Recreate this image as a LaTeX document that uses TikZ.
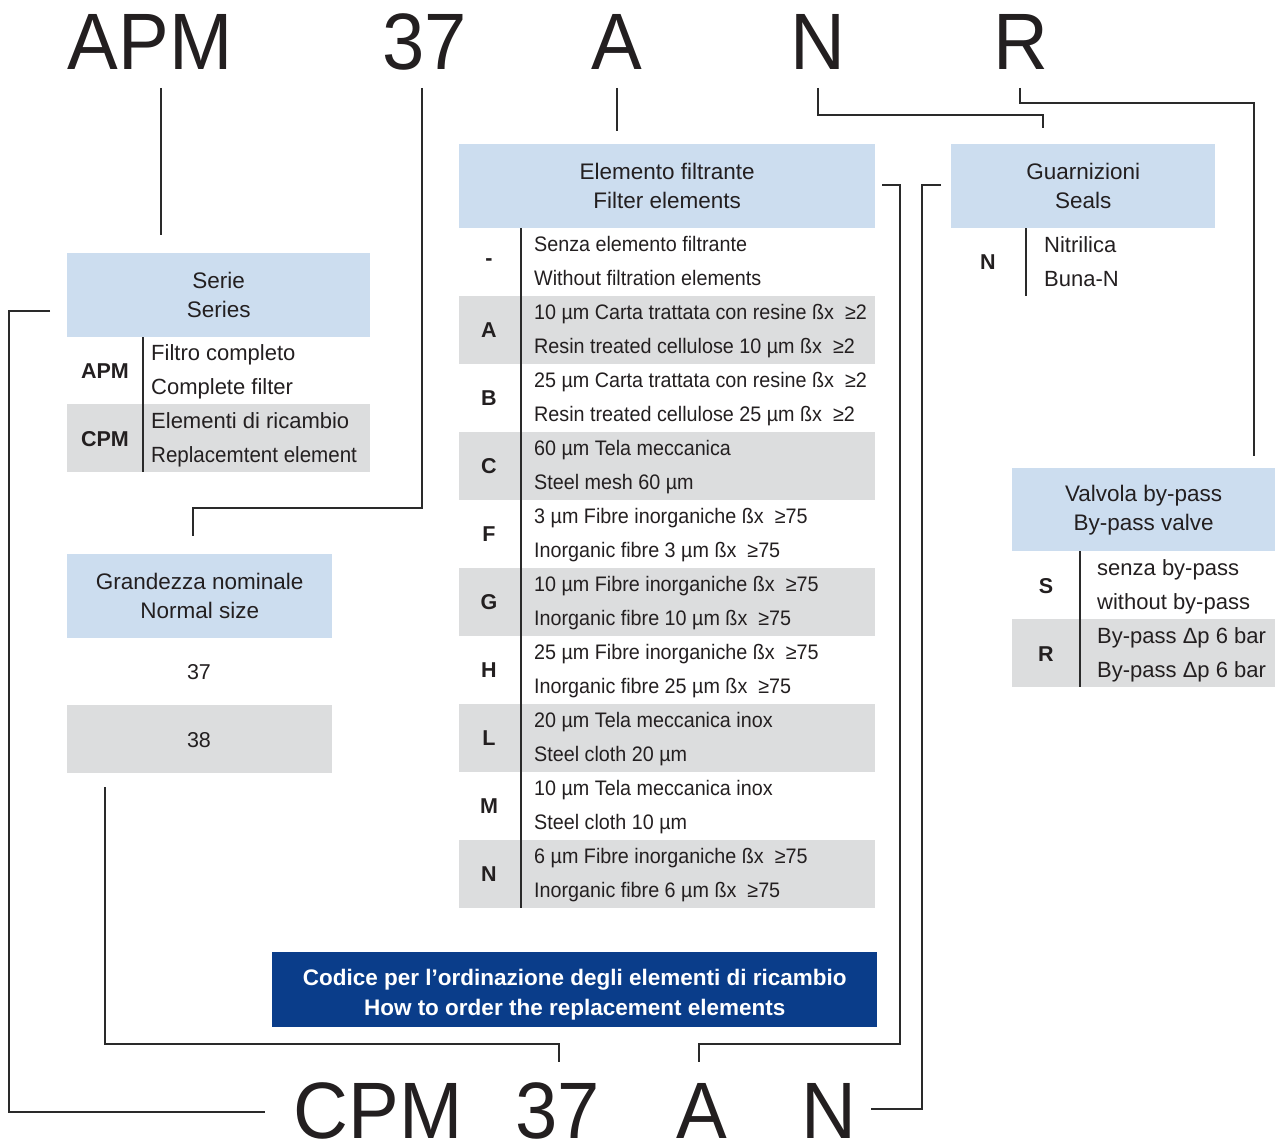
\documentclass[tikz,border=0pt]{standalone}
\usepackage{fontspec}
\setmainfont{Liberation Sans}
\newfontfamily\bigfont[FakeStretch=0.95]{Liberation Sans}
\newfontfamily\rowfont[FakeStretch=0.94]{Liberation Sans}
\newfontfamily\tightfont[FakeStretch=0.935]{Liberation Sans}
\definecolor{hdrblue}{HTML}{CCDDEF}
\definecolor{rowgray}{HTML}{DCDDDE}
\definecolor{darkblue}{HTML}{0A3D8A}
\definecolor{txt}{HTML}{231F20}
\definecolor{linec}{HTML}{2A2A2A}
\tikzset{
  hdr/.style={fill=hdrblue, inner sep=0pt, align=center, anchor=north west,
    font=\fontsize{22.5}{29}\selectfont, text=txt},
  rowbg/.style={fill=rowgray, inner sep=0pt, anchor=north west},
  codetxt/.style={font=\bfseries\fontsize{21.5}{21.5}\selectfont, text=txt, inner sep=0pt},
  rtxt/.style={anchor=base west, font=\fontsize{22}{22}\selectfont, text=txt, inner sep=0pt},
  etxt/.style={anchor=base west, font=\rowfont\fontsize{21}{21}\selectfont, text=txt, inner sep=0pt},
  bigtxt/.style={anchor=base, font=\bigfont\fontsize{80}{80}\selectfont, text=txt, inner sep=0pt},
  conn/.style={draw=linec, line width=1.2pt},
  divider/.style={draw=linec, line width=1.2pt}
}
\newcommand{\ERow}[5]{%
  \node[codetxt] (#1c) at (489,#2+34) {#3};
  \node[etxt] (#1a) at (534,#2+23.7) {#4};
  \node[etxt] (#1b) at (534,#2+57.7) {#5};
}
\newcommand{\gap}{\hspace{11pt}}
\begin{document}
\begin{tikzpicture}[x=1pt,y=-1pt]
\useasboundingbox (0,0) rectangle (1275,1145);

% ---- top code ----
\node[bigtxt] (tAPM) at (150,70) {APM};
\node[bigtxt] (t37) at (425,70) {37};
\node[bigtxt] (tA) at (617,70) {A};
\node[bigtxt] (tN) at (818,70) {N};
\node[bigtxt] (tR) at (1021,70) {R};

% ---- bottom code ----
\node[bigtxt] (bCPM) at (378,1138) {CPM};
\node[bigtxt] (b37) at (558,1138) {37};
\node[bigtxt] (bA) at (702,1138) {A};
\node[bigtxt] (bN) at (829,1138) {N};

% ---- Serie ----
\node[hdr, minimum width=303pt, minimum height=84pt] (hSerie) at (67,253) {Serie\\Series};
\node[rowbg, minimum width=303pt, minimum height=68pt] (sCPMbg) at (67,404) {};
\draw[divider] (143,337) -- (143,472);
\node[codetxt] (sAPM) at (105,371) {APM};
\node[rtxt] (sAPMa) at (151,360.3) {Filtro completo};
\node[rtxt] (sAPMb) at (151,394.3) {Complete filter};
\node[codetxt] (sCPM) at (105,439) {CPM};
\node[rtxt] (sCPMa) at (151,428) {Elementi di ricambio};
\node[rtxt, font=\tightfont\fontsize{22}{22}\selectfont] (sCPMb) at (151,462) {Replacemtent element};

% ---- Grandezza ----
\node[hdr, minimum width=265pt, minimum height=84pt] (hGrand) at (67,554) {Grandezza nominale\\Normal size};
\node[rowbg, minimum width=265pt, minimum height=68pt] (g38bg) at (67,705) {};
\node[text=txt, font=\fontsize{21.5}{21.5}\selectfont, inner sep=0pt] (g37) at (199,672) {37};
\node[text=txt, font=\fontsize{21.5}{21.5}\selectfont, inner sep=0pt] (g38) at (199,740) {38};

% ---- Elemento filtrante ----
\node[hdr, minimum width=416pt, minimum height=84pt] (hElem) at (459,144) {Elemento filtrante\\Filter elements};
\foreach \yy in {296,432,568,704,840}
  \node[rowbg, minimum width=416pt, minimum height=68pt] at (459,\yy) {};
\draw[divider] (521,228) -- (521,908);
\ERow{eNone}{228}{-}{Senza elemento filtrante}{Without filtration elements}
\ERow{eA}{296}{A}{10 µm Carta trattata con resine ßx\gap≥2}{Resin treated cellulose 10 µm ßx\gap≥2}
\ERow{eB}{364}{B}{25 µm Carta trattata con resine ßx\gap≥2}{Resin treated cellulose 25 µm ßx\gap≥2}
\ERow{eC}{432}{C}{60 µm Tela meccanica}{Steel mesh 60 µm}
\ERow{eF}{500}{F}{3 µm Fibre inorganiche ßx\gap≥75}{Inorganic fibre 3 µm ßx\gap≥75}
\ERow{eG}{568}{G}{10 µm Fibre inorganiche ßx\gap≥75}{Inorganic fibre 10 µm ßx\gap≥75}
\ERow{eH}{636}{H}{25 µm Fibre inorganiche ßx\gap≥75}{Inorganic fibre 25 µm ßx\gap≥75}
\ERow{eL}{704}{L}{20 µm Tela meccanica inox}{Steel cloth 20 µm}
\ERow{eM}{772}{M}{10 µm Tela meccanica inox}{Steel cloth 10 µm}
\ERow{eN}{840}{N}{6 µm Fibre inorganiche ßx\gap≥75}{Inorganic fibre 6 µm ßx\gap≥75}

% ---- Guarnizioni ----
\node[hdr, minimum width=264pt, minimum height=84pt] (hSeals) at (951,144) {Guarnizioni\\Seals};
\draw[divider] (1026,228) -- (1026,296);
\node[codetxt] (sealN) at (988,262) {N};
\node[rtxt] (sealNa) at (1044,252) {Nitrilica};
\node[rtxt] (sealNb) at (1044,286) {Buna-N};

% ---- Valvola by-pass ----
\node[hdr, minimum width=263pt, minimum height=83pt] (hValv) at (1012,468) {Valvola by-pass\\By-pass valve};
\node[rowbg, minimum width=263pt, minimum height=68pt] (vRbg) at (1012,619) {};
\draw[divider] (1080,551) -- (1080,687);
\node[codetxt] (vS) at (1046,586) {S};
\node[rtxt] (vSa) at (1097,575) {senza by-pass};
\node[rtxt] (vSb) at (1097,609) {without by-pass};
\node[codetxt] (vR) at (1046,654) {R};
\node[rtxt] (vRa) at (1097,643) {By-pass Δp 6 bar};
\node[rtxt] (vRb) at (1097,677) {By-pass Δp 6 bar};

% ---- blue banner ----
\node[fill=darkblue, inner sep=0pt, anchor=north west,
  minimum width=605pt, minimum height=75pt] (banner) at (272,952) {};
\node[text=white, inner sep=0pt, align=center,
  font=\bfseries\fontsize{22.5}{30}\selectfont] (bannertxt) at ([yshift=-5pt]banner.center)
  {Codice per l’ordinazione degli elementi di ricambio\\How to order the replacement elements};

% ---- connector end points ----
\coordinate (kAPMt) at (161,88);   \coordinate (kAPMb) at (161,235);
\coordinate (k37t) at (422,88);    \coordinate (k37b) at (193,536);
\coordinate (kAt) at (617,88);     \coordinate (kAb) at (617,131);
\coordinate (kNt) at (818,88);     \coordinate (kNb) at (1043,128);
\coordinate (kRt) at (1020,88);    \coordinate (kRb) at (1254,456);
\coordinate (kSerie) at (50,311);  \coordinate (kCPM) at (265,1112);
\coordinate (kGrand) at (105,787); \coordinate (k37bot) at (559,1062);
\coordinate (kElem) at (882,185);  \coordinate (kAbot) at (699,1062);
\coordinate (kSeals) at (941,185); \coordinate (kNbot) at (871,1109);

% ---- connectors ----
\draw[conn] (kAPMt) -- (kAPMb);
\draw[conn] (k37t) -- (422,508) -- (193,508) -- (k37b);
\draw[conn] (kAt) -- (kAb);
\draw[conn] (kNt) -- (818,115) -- (1043,115) -- (kNb);
\draw[conn] (kRt) -- (1020,103) -- (1254,103) -- (kRb);
\draw[conn] (kSerie) -- (9,311) -- (9,1112) -- (kCPM);
\draw[conn] (kGrand) -- (105,1044) -- (559,1044) -- (k37bot);
\draw[conn] (kElem) -- (900,185) -- (900,1044) -- (699,1044) -- (kAbot);
\draw[conn] (kSeals) -- (922,185) -- (922,1109) -- (kNbot);
\end{tikzpicture}
\end{document}
